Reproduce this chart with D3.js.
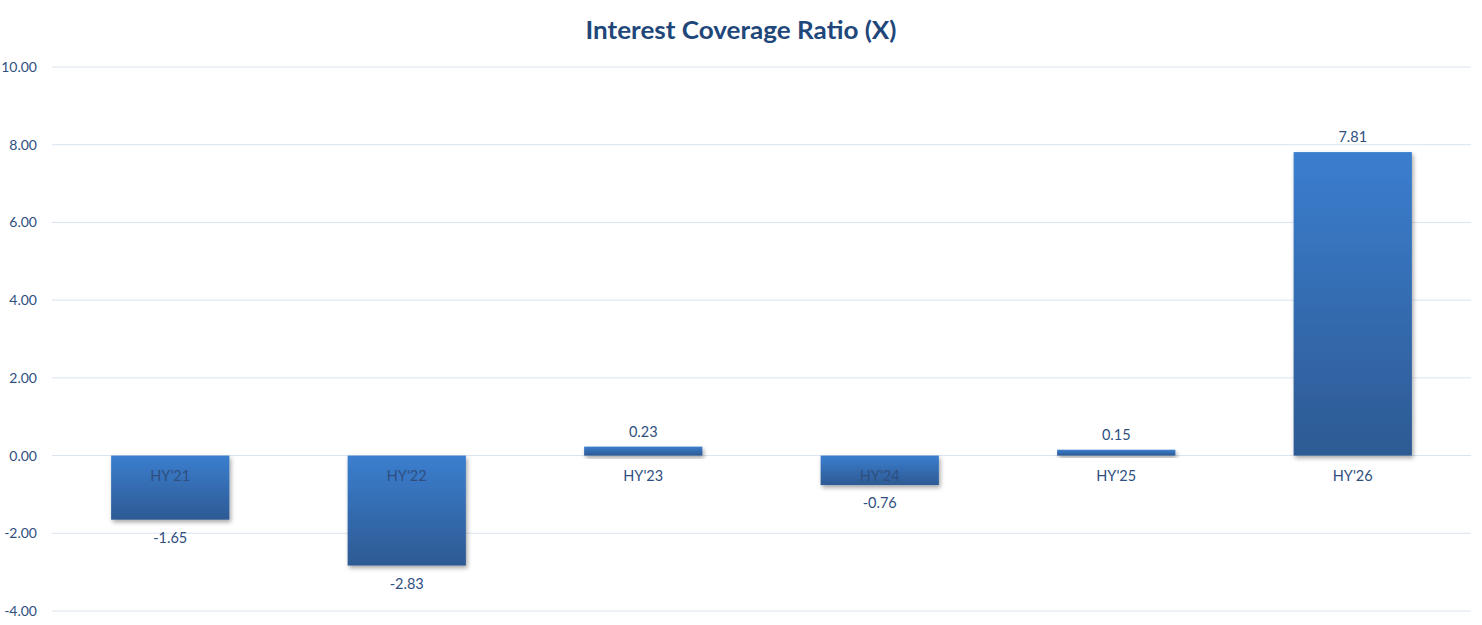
<!DOCTYPE html>
<html><head><meta charset="utf-8">
<script src="https://cdn.jsdelivr.net/npm/d3@7"></script>
<style>body{margin:0;background:#fff;} svg{display:block;}</style>
</head><body>
<svg id="chart" width="1482" height="625"></svg>
<script>
const categories = ["HY'21","HY'22","HY'23","HY'24","HY'25","HY'26"];
const values = [-1.65, -2.83, 0.23, -0.76, 0.15, 7.81];
const yTicks = [-4, -2, 0, 2, 4, 6, 8, 10];
const title = "Interest Coverage Ratio (X)";

const svg = d3.select("#chart");
const W = 1482, H = 625;
const m = {left: 52, right: 11, top: 67, bottom: 14};
const font = "Lato, 'Open Sans', sans-serif";
const textColor = "#2f4f7f";
const fmt = d3.formatLocale({decimal: ".", thousands: ",", grouping: [3], currency: ["", ""], minus: "-"}).format(".2f");

const x = d3.scaleBand().domain(categories).range([m.left, W - m.right]).paddingInner(0.5).paddingOuter(0.25);
const y = d3.scaleLinear().domain([-4, 10]).range([H - m.bottom, m.top]);

const defs = svg.append("defs");
const grad = defs.append("linearGradient").attr("id","barGrad").attr("x1",0).attr("y1",0).attr("x2",0).attr("y2",1);
grad.append("stop").attr("offset","0%").attr("stop-color","#3b7ecf");
grad.append("stop").attr("offset","100%").attr("stop-color","#2d5a93");
const f = defs.append("filter").attr("id","shadow").attr("x","-10%").attr("y","-10%").attr("width","130%").attr("height","140%");
f.append("feDropShadow").attr("dx",1.5).attr("dy",2.5).attr("stdDeviation",2).attr("flood-color","#000").attr("flood-opacity",0.35);

svg.append("text").attr("x", 741).attr("y", 39).attr("text-anchor","middle")
  .attr("font-family", font).attr("font-weight","bold").attr("font-size", 25)
  .attr("textLength", 311).attr("lengthAdjust","spacingAndGlyphs")
  .attr("fill","#1f477a").text(title);

// grid
svg.append("g").selectAll("line").data(yTicks).join("line")
  .attr("x1", m.left).attr("x2", W - m.right)
  .attr("y1", d => y(d)).attr("y2", d => y(d))
  .attr("stroke","#d9e4f1").attr("stroke-width",1);

// y axis labels
const yAxis = d3.axisLeft(y).tickValues(yTicks).tickFormat(fmt).tickSize(0).tickPadding(0);
const ga = svg.append("g").attr("transform", `translate(${37},0)`).call(yAxis);
ga.select(".domain").remove();
ga.selectAll("text").attr("font-family", font).attr("font-size", 14).attr("fill", textColor);

// bars
svg.append("g").selectAll("rect").data(values).join("rect")
  .attr("x", (d,i) => x(categories[i]))
  .attr("width", x.bandwidth())
  .attr("y", d => y(Math.max(0,d)))
  .attr("height", d => Math.abs(y(d) - y(0)))
  .attr("fill","url(#barGrad)")
  .attr("filter","url(#shadow)");

// category labels
svg.append("g").selectAll("text").data(categories).join("text")
  .attr("x", d => x(d) + x.bandwidth()/2)
  .attr("y", y(0) + 25)
  .attr("text-anchor","middle").attr("font-family", font).attr("font-size", 14.5)
  .attr("fill", textColor).text(d => d);

// value labels
svg.append("g").selectAll("text").data(values).join("text")
  .attr("x", (d,i) => x(categories[i]) + x.bandwidth()/2)
  .attr("y", d => d >= 0 ? y(d) - 10 : y(d) + 23)
  .attr("text-anchor","middle").attr("font-family", font).attr("font-size", 14.5)
  .attr("fill", textColor).text(d => fmt(d));
</script>
</body></html>
